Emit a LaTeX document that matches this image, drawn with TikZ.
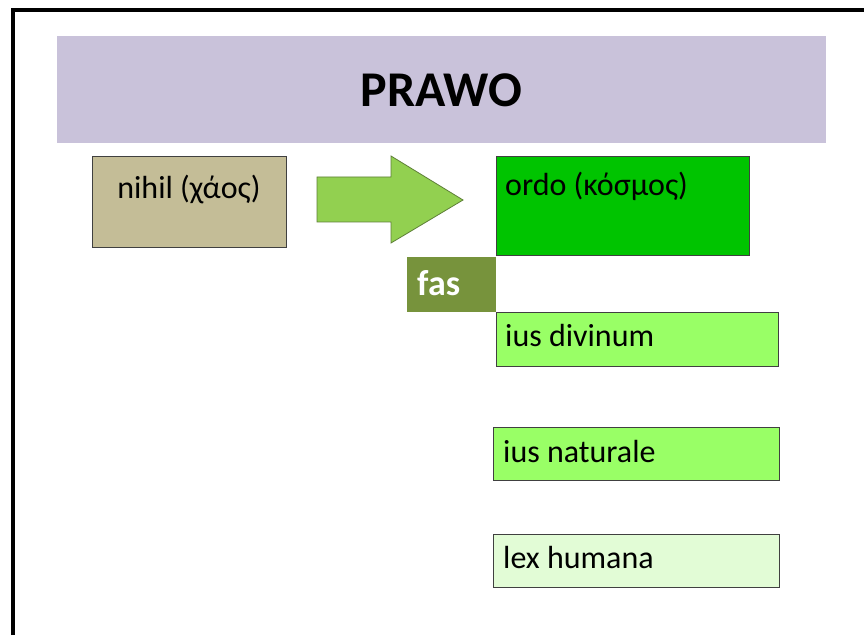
\documentclass[tikz,border=0pt]{standalone}
\usepackage{fontspec}
\setmainfont{Carlito}

\definecolor{tytulfill}{HTML}{C9C2DA}
\definecolor{chaosfill}{HTML}{C4BD97}
\definecolor{strzalka}{HTML}{92D050}
\definecolor{strzalkabrzeg}{HTML}{5E7F38}
\definecolor{fasfill}{HTML}{77933C}
\definecolor{ordofill}{HTML}{00C400}
\definecolor{iusfill}{HTML}{99FF66}
\definecolor{lexfill}{HTML}{E2FCD6}

\begin{document}
\begin{tikzpicture}[x=1pt,y=1pt,
  box/.style={draw=black!75,line width=0.8pt,inner sep=0pt,anchor=north west},
  txt/.style={anchor=base west,inner sep=0pt,font=\fontsize{32}{38}\selectfont}]

\useasboundingbox (0,0) rectangle (864,635);
\fill[white] (0,0) rectangle (864,635);

% ramka
\draw[line width=4pt] (13,0)--(13,625)--(864,625);

% tytul
\fill[color=tytulfill] (57,492) rectangle (826,599);
\node[anchor=base,inner sep=0pt,font=\bfseries\fontsize{50}{60}\selectfont] (prawo) at (441.5,528) {PRAWO};

% chaos -> kosmos
\node[box,fill=chaosfill,minimum width=194pt,minimum height=91pt] (nihil) at (92,479) {};
\node[txt,anchor=base] (nihiltxt) at (189,436) {nihil (χάος)};

\draw[color=strzalkabrzeg,fill=strzalka,line width=0.8pt]
  (317,458)--(391,458)--(391,479)--(463,435)--(391,392)--(391,413)--(317,413)--cycle;

\node[box,fill=ordofill,minimum width=253pt,minimum height=99pt] (ordo) at (496,479) {};
\node[txt] (ordotxt) at (505,439) {ordo (κόσμος)};

\node[box,draw=none,fill=fasfill,minimum width=89pt,minimum height=55pt] (fas) at (407,378) {};
\node[txt,color=white,font=\bfseries\fontsize{36}{42}\selectfont] (fastxt) at (417,339) {fas};

% porzadki
\node[box,fill=iusfill,minimum width=282pt,minimum height=54pt] (divinum) at (496,323) {};
\node[txt] (divinumtxt) at (505,288) {ius divinum};

\node[box,fill=iusfill,minimum width=286pt,minimum height=53pt] (naturale) at (493,208) {};
\node[txt] (naturaletxt) at (503,173) {ius naturale};

\node[box,fill=lexfill,minimum width=286pt,minimum height=53pt] (humana) at (493,101) {};
\node[txt] (humanatxt) at (503,67) {lex humana};

\end{tikzpicture}
\end{document}
